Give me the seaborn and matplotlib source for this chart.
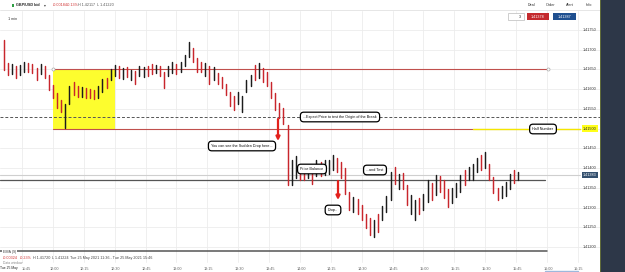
import numpy as np
import pandas as pd
import matplotlib
matplotlib.use("Agg")
import matplotlib.pyplot as plt
import seaborn as sns
from matplotlib.patches import Rectangle

sns.set_style("white")
plt.rcParams['font.family'] = ['Liberation Sans', 'DejaVu Sans']

# ---------------- data ----------------
bar_start_min = 11 * 60 + 36      # first bar 11:36
bar_step_min = 2
highs = [1.41725, 1.41666, 1.41664, 1.41659, 1.41661, 1.41669, 1.41666, 1.41664, 1.41654, 1.41664,
         1.41659, 1.41636, 1.41611, 1.41590, 1.41573, 1.41562, 1.41608, 1.41618, 1.41608, 1.41606,
         1.41603, 1.41600, 1.41598, 1.41608, 1.41626, 1.41628, 1.41651, 1.41661, 1.41659, 1.41654,
         1.41656, 1.41649, 1.41646, 1.41659, 1.41656, 1.41659, 1.41664, 1.41661, 1.41659, 1.41644,
         1.41659, 1.41669, 1.41664, 1.41669, 1.41687, 1.41720, 1.41704, 1.41679, 1.41669, 1.41666,
         1.41659, 1.41656, 1.41641, 1.41631, 1.41613, 1.41593, 1.41583, 1.41593, 1.41583, 1.41623,
         1.41636, 1.41661, 1.41666, 1.41654, 1.41644, 1.41618, 1.41590, 1.41565, 1.41552, 1.41509,
         1.41421, 1.41431, 1.41405, 1.41408, 1.41405, 1.41405, 1.41421, 1.41415, 1.41421, 1.41421,
         1.41433, 1.41426, 1.41415, 1.41400, 1.41340, 1.41327, 1.41322, 1.41307, 1.41284, 1.41274,
         1.41269, 1.41284, 1.41304, 1.41329, 1.41390, 1.41403, 1.41385, 1.41388, 1.41357, 1.41332,
         1.41319, 1.41324, 1.41334, 1.41370, 1.41362, 1.41383, 1.41380, 1.41370, 1.41346, 1.41350,
         1.41362, 1.41383, 1.41395, 1.41403, 1.41410, 1.41426, 1.41433, 1.41441, 1.41410, 1.41378,
         1.41350, 1.41355, 1.41365, 1.41385, 1.41395, 1.41390]
lows = [1.41649, 1.41636, 1.41638, 1.41628, 1.41636, 1.41644, 1.41644, 1.41641, 1.41623, 1.41638,
        1.41628, 1.41598, 1.41577, 1.41552, 1.41542, 1.41502, 1.41562, 1.41585, 1.41580, 1.41580,
        1.41577, 1.41577, 1.41575, 1.41577, 1.41593, 1.41603, 1.41623, 1.41633, 1.41628, 1.41626,
        1.41631, 1.41623, 1.41613, 1.41633, 1.41631, 1.41633, 1.41638, 1.41641, 1.41633, 1.41603,
        1.41633, 1.41641, 1.41638, 1.41644, 1.41659, 1.41682, 1.41669, 1.41644, 1.41644, 1.41633,
        1.41613, 1.41623, 1.41613, 1.41603, 1.41585, 1.41557, 1.41547, 1.41562, 1.41542, 1.41593,
        1.41608, 1.41623, 1.41628, 1.41618, 1.41608, 1.41577, 1.41547, 1.41527, 1.41512, 1.41357,
        1.41357, 1.41375, 1.41370, 1.41370, 1.41375, 1.41360, 1.41380, 1.41380, 1.41383, 1.41385,
        1.41395, 1.41390, 1.41375, 1.41334, 1.41294, 1.41289, 1.41284, 1.41269, 1.41248, 1.41231,
        1.41225, 1.41238, 1.41269, 1.41289, 1.41319, 1.41360, 1.41346, 1.41347, 1.41307, 1.41284,
        1.41269, 1.41284, 1.41294, 1.41314, 1.41319, 1.41332, 1.41340, 1.41324, 1.41302, 1.41312,
        1.41327, 1.41340, 1.41357, 1.41370, 1.41370, 1.41390, 1.41395, 1.41400, 1.41370, 1.41337,
        1.41319, 1.41324, 1.41329, 1.41346, 1.41362, 1.41370]
# R = down bar (red), B = up bar (black)
directions = ("RRBRBBRRRB" "RRRRRBBRRB" "RRRBBRBBRB" "RBRBBRRBRR" "BBRBBBRRRB"
              "RBRRRRRBBB" "BRBRRRRRRR" "BBRRBRBRBB" "BRRRRBRRRR" "BRBBBRBRRB"
              "BRBBRBRRRB" "BBRBBBRBRR" "RBBBRB")

price_ticks = [1.41750, 1.41700, 1.41650, 1.41600, 1.41550, 1.41450,
               1.41400, 1.41350, 1.41300, 1.41250, 1.41200]
time_ticks = ["11:45", "12:00", "12:15", "12:30", "12:45", "13:00", "13:15", "13:30",
              "13:45", "14:00", "14:15", "14:30", "14:45", "15:00", "15:15", "15:30",
              "15:45", "16:00", "16:15"]

box_start, box_end = "12:00", "12:30"
box_top, box_bottom = 1.41650, 1.41500
half_number = 1.41500
break_origin = 1.41530
support_level = 1.41370
last_price = 1.41383
bid_price, ask_price = 1.41378, 1.41387

header_change = ["-0.00184", "-0.13%"]
header_hl = "H 1.42117  L 1.41220"
footer_change = ["-0.00324", "-0.23%"]
footer_hl = ["H 1.41720", "L 1.41224"]
footer_range = "Tue 25 May 2021 11:36 - Tue 25 May 2021 15:46"

# ---------------- helpers: pixel <-> data ----------------
W, H = 625, 272
PX_PER_MIN = 2.058
PX_PER_PRICE = 19.73 / 0.0005


def tx(px):
    return 720 + (px - 53) / PX_PER_MIN


def py(p):
    return 1.4175 - (p - 30) / PX_PER_PRICE


def hm(s):
    h, m = s.split(":")
    return int(h) * 60 + int(m)


def fx(px):
    return px / W


def fy(p):
    return 1 - p / H


fig = plt.figure(figsize=(W / 100, H / 100), dpi=100)
ax = fig.add_axes([0, 0, 1, 1])
ax.set_xlim(tx(0), tx(W))
ax.set_ylim(py(H), py(0))
ax.axis("off")

GRID = "#ececec"
FS = 2.7

# grid
for lab in time_ticks:
    t = hm(lab)
    ax.plot([t, t], [py(262), py(11)], color=GRID, lw=0.6, zorder=0)
for p in price_ticks + [half_number]:
    ax.plot([tx(0), tx(600)], [p, p], color=GRID, lw=0.6, zorder=0)

# yellow zone
t0, t1 = hm(box_start), hm(box_end)
ax.add_patch(Rectangle((t0, box_bottom), t1 - t0, box_top - box_bottom,
                       fc="#fdfd2e", ec="none", zorder=1))

# level lines
ax.plot([t0, tx(548)], [box_top, box_top], color="#c0504d", lw=0.8, zorder=2)
ax.plot([t0], [box_top], marker="o", ms=2.2, mfc="white", mec="#aaaaaa", mew=0.5, zorder=4)
ax.plot([tx(548)], [box_top], marker="o", ms=2.2, mfc="white", mec="#aaaaaa", mew=0.5, zorder=4)
ax.plot([t0, tx(473)], [box_bottom, box_bottom], color="#c0504d", lw=0.8, zorder=2)
ax.plot([tx(473), tx(580)], [half_number - 0.000012, half_number - 0.000012],
        color="#aab6d6", lw=0.8, zorder=2)
ax.plot([tx(473), tx(580)], [half_number, half_number], color="#f5e600", lw=1.0, zorder=2)
ax.plot([tx(0), tx(600)], [break_origin, break_origin], color="#555555", lw=0.7,
        ls=(0, (3, 2)), zorder=2)
ax.plot([tx(0), tx(580)], [last_price, last_price], color="#cfcfcf", lw=0.8, zorder=2)
ax.plot([tx(0), tx(545)], [support_level, support_level], color="#555555", lw=0.9, zorder=2)

# bars via seaborn
rows = []
for i, (hi, lo, d) in enumerate(zip(highs, lows, directions)):
    t = bar_start_min + i * bar_step_min
    kind = "down" if d == "R" else "up"
    rows.append({"time": t, "price": lo, "bar": i, "dir": kind})
    rows.append({"time": t, "price": hi, "bar": i, "dir": kind})
bars = pd.DataFrame(rows)
sns.lineplot(data=bars, x="time", y="price", units="bar", estimator=None, hue="dir",
             palette={"down": "#c8262c", "up": "#1c1c1c"}, legend=False, lw=1.05,
             sort=False, ax=ax, zorder=3)
ax.set_xlim(tx(0), tx(W))
ax.set_ylim(py(H), py(0))
ax.axis("off")

# annotations
box = dict(boxstyle="round,pad=0.75,rounding_size=0.9", fc="white", ec="black", lw=0.9)
notes = [("...Expect Price to test the Origin of the Break", 340, 117),
         ("You can see the Sudden Drop here...", 242, 146),
         ("Price Balance", 312, 169),
         ("Drop..", 333, 210),
         ("...and Test", 375, 170),
         ("Half Number", 543, 129)]
for txt, x, y in notes:
    ax.text(tx(x), py(y), txt, fontsize=FS, ha="center", va="center", color="#111",
            bbox=box, zorder=6)

for x, y0, y1 in [(278, 119, 141), (338, 181, 200)]:
    ax.annotate("", xy=(tx(x), py(y1)), xytext=(tx(x), py(y0)),
                arrowprops=dict(arrowstyle="-|>", color="#e3211c", lw=1.6,
                                mutation_scale=5.5, shrinkA=0, shrinkB=0), zorder=6)

# price axis labels (inside chart, right)
for p in price_ticks:
    ax.text(tx(590), p, f"{p:.5f}", fontsize=FS, ha="center", va="center", color="#333", zorder=5)
ax.text(tx(590), half_number, f"{half_number:.5f}", fontsize=FS, ha="center", va="center",
        color="#222", zorder=7,
        bbox=dict(boxstyle="square,pad=0.35", fc="#ffff1a", ec="none"))
ax.text(tx(590), last_price, f"{last_price:.5f}", fontsize=FS, ha="center", va="center",
        color="white", zorder=7,
        bbox=dict(boxstyle="square,pad=0.35", fc="#34506e", ec="none"))

# EMA separator and footer
ax.plot([tx(0), tx(547)], [py(251), py(251)], color="#555555", lw=1.1, zorder=4)
fig.text(fx(3), fy(251.5), "EMA (9)", fontsize=FS, va="center", color="#444",
         bbox=dict(boxstyle="square,pad=0.2", fc="white", ec="none"))
fig.text(fx(3), fy(258), footer_change[0], fontsize=FS, va="center", color="#d03030")
fig.text(fx(20), fy(258), footer_change[1], fontsize=FS, va="center", color="#d03030")
fig.text(fx(33), fy(258), footer_hl[0], fontsize=FS, va="center", color="#444")
fig.text(fx(52), fy(258), footer_hl[1], fontsize=FS, va="center", color="#444")
fig.text(fx(70), fy(258), footer_range, fontsize=FS, va="center", color="#444")
fig.text(fx(3), fy(263.5), "Data window", fontsize=FS * 0.9, va="center", color="#888")

fig.text(fx(0.5), fy(268.5), "Tue 25 May", fontsize=2.4, va="center", color="#222")
for lab in time_ticks:
    t = hm(lab)
    xpx = max(53 + (t - 720) * PX_PER_MIN + 1, 26)
    fig.text(fx(xpx), fy(268.5), lab, fontsize=FS, ha="center", va="center", color="#666")
ax.plot([tx(545), tx(578)], [py(271), py(271)], color="#9db8dc", lw=1.0, zorder=4)

# header
ax.plot([tx(0), tx(600)], [py(10), py(10)], color="#e2e2e2", lw=0.6, zorder=4)
fig.patches.append(Rectangle((fx(12), fy(6.5)), fx(2.5), 2.5 / H, transform=fig.transFigure,
                             fc="#2e9e44", ec="none"))
fig.text(fx(16), fy(5), "GBP/USD bid", fontsize=FS, va="center", color="#222", weight="bold")
fig.text(fx(44), fy(5), "\u25be", fontsize=FS, va="center", color="#444",
         family=["DejaVu Sans"])
fig.text(fx(53), fy(5), header_change[0], fontsize=FS, va="center", color="#d03030")
fig.text(fx(67), fy(5), header_change[1], fontsize=FS, va="center", color="#d03030")
fig.text(fx(78), fy(5), header_hl, fontsize=FS, va="center", color="#555")
for lab, x in [("Deal", 532), ("Order", 551), ("Alert", 570), ("Info", 589)]:
    fig.text(fx(x), fy(5), lab, fontsize=FS, ha="center", va="center", color="#333")
fig.text(fx(8), fy(19), "1 min", fontsize=FS, va="center", color="#333")

fig.patches.append(Rectangle((fx(508), fy(19.5)), fx(16), 6 / H, transform=fig.transFigure,
                             fc="white", ec="#bbbbbb", lw=0.5))
fig.text(fx(520), fy(16.5), "3", fontsize=FS, ha="center", va="center", color="#222")
fig.patches.append(Rectangle((fx(527), fy(19.5)), fx(22), 6 / H, transform=fig.transFigure,
                             fc="#c42a2e", ec="none"))
fig.text(fx(538), fy(16.5), f"{bid_price:.5f}", fontsize=FS, ha="center", va="center", color="white")
fig.patches.append(Rectangle((fx(553), fy(19.5)), fx(23), 6 / H, transform=fig.transFigure,
                             fc="#1f4f8f", ec="none"))
fig.text(fx(564.5), fy(16.5), f"{ask_price:.5f}", fontsize=FS, ha="center", va="center", color="white")

# right dark panel
fig.patches.append(Rectangle((fx(600), 0), fx(25), 1, transform=fig.transFigure,
                             fc="#2d3748", ec="none"))
fig.patches.append(Rectangle((fx(600), 0), fx(1), 1, transform=fig.transFigure,
                             fc="#5f6a3a", ec="none"))

fig.savefig("out.png", dpi=100)
